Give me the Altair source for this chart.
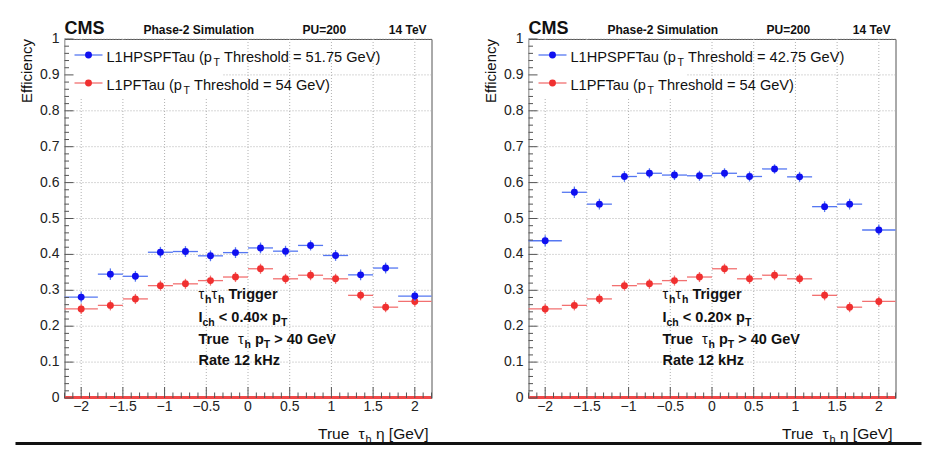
import altair as alt
import pandas as pd

FONT = "Liberation Sans"
TXT = "#111111"
FRAME = "#555555"

# ---------------- data ----------------
eta_lo = [-2.2, -1.8, -1.5, -1.2, -0.9, -0.6, -0.3, 0.0, 0.3, 0.6, 0.9, 1.2, 1.5, 1.8]
eta_hi = [-1.8, -1.5, -1.2, -0.9, -0.6, -0.3, 0.0, 0.3, 0.6, 0.9, 1.2, 1.5, 1.8, 2.2]
eta_c = [-2.0, -1.65, -1.35, -1.05, -0.75, -0.45, -0.15, 0.15, 0.45, 0.75, 1.05, 1.35, 1.65, 2.0]

eff_hps_iso040 = [0.281, 0.345, 0.339, 0.406, 0.408, 0.396, 0.405, 0.418, 0.409, 0.425, 0.397, 0.343, 0.362, 0.284]
err_hps_iso040 = [0.015, 0.016, 0.015, 0.015, 0.015, 0.015, 0.015, 0.015, 0.015, 0.014, 0.015, 0.015, 0.015, 0.014]
eff_hps_iso020 = [0.438, 0.573, 0.540, 0.617, 0.626, 0.621, 0.619, 0.626, 0.617, 0.638, 0.616, 0.533, 0.540, 0.468]
err_hps_iso020 = [0.015, 0.016, 0.015, 0.015, 0.014, 0.014, 0.014, 0.014, 0.014, 0.013, 0.014, 0.015, 0.015, 0.015]
eff_pf = [0.248, 0.258, 0.276, 0.313, 0.318, 0.327, 0.337, 0.360, 0.332, 0.342, 0.332, 0.286, 0.253, 0.269]
err_pf = [0.014, 0.014, 0.014, 0.014, 0.014, 0.014, 0.014, 0.014, 0.014, 0.014, 0.014, 0.014, 0.014, 0.014]

x_major = [-2, -1.5, -1, -0.5, 0, 0.5, 1, 1.5, 2]
x_labels = ["\u22122", "\u22121.5", "\u22121", "\u22120.5", "0", "0.5", "1", "1.5", "2"]
y_major = [0, 0.1, 0.2, 0.3, 0.4, 0.5, 0.6, 0.7, 0.8, 0.9, 1.0]
y_labels = ["0", "0.1", "0.2", "0.3", "0.4", "0.5", "0.6", "0.7", "0.8", "0.9", "1"]
x_minor = [round(-2.2 + 0.1 * i, 2) for i in range(45)]
x_minor = [v for v in x_minor if abs(v * 2 - round(v * 2)) > 1e-6]
y_minor = [round(0.02 * i, 2) for i in range(51)]
y_minor = [v for v in y_minor if abs(v * 10 - round(v * 10)) > 1e-6]

legend_blue_left = ["L1HPSPFTau (p", "T", " Threshold = 51.75 GeV)"]
legend_blue_right = ["L1HPSPFTau (p", "T", " Threshold = 42.75 GeV)"]
legend_red = ["L1PFTau (p", "T", " Threshold = 54 GeV)"]
iso_left = "0.40"
iso_right = "0.20"

# ---------------- text metrics (Arial / Liberation Sans) ----------------
REG = {c: w for c, w in zip(" ()+-.<=>[]\u00d7", [278, 333, 333, 584, 333, 278, 584, 584, 584, 278, 278, 584])}
BOLD = dict(REG)
for c in "0123456789":
    REG[c] = 556
    BOLD[c] = 556
for c, w in zip("ABCDEFGHIJKLMNOPQRSTUVWXYZ",
                [667, 667, 722, 722, 667, 611, 778, 722, 278, 500, 667, 556, 833, 722, 778, 667, 778, 722, 667, 611, 722, 667, 944, 667, 667, 611]):
    REG[c] = w
for c, w in zip("abcdefghijklmnopqrstuvwxyz",
                [556, 556, 500, 556, 556, 278, 556, 556, 222, 222, 500, 222, 833, 556, 556, 556, 556, 333, 500, 278, 556, 500, 722, 500, 500, 500]):
    REG[c] = w
for c, w in zip("ABCDEFGHIJKLMNOPQRSTUVWXYZ",
                [722, 722, 722, 722, 667, 611, 778, 722, 278, 556, 722, 611, 833, 722, 778, 667, 778, 722, 667, 611, 722, 667, 944, 667, 667, 611]):
    BOLD[c] = w
for c, w in zip("abcdefghijklmnopqrstuvwxyz",
                [556, 611, 556, 611, 556, 333, 611, 611, 278, 278, 556, 278, 889, 611, 611, 611, 611, 389, 556, 333, 611, 556, 778, 556, 556, 500]):
    BOLD[c] = w
REG["\u03c4"] = 450
BOLD["\u03c4"] = 470
REG["\u03b7"] = 556


def tw(s, size, bold):
    t = BOLD if bold else REG
    return sum(t.get(c, 556) for c in s) * size / 1000.0


one = pd.DataFrame({"k": [0]})


def text_segments(segs, x0, y0, align="left"):
    widths = [tw(t, s, b) for t, s, b, dy in segs]
    x = x0 - sum(widths) if align == "right" else x0
    out = []
    for (t, s, b, dy), w in zip(segs, widths):
        stripped = t.lstrip(" ")
        lead = tw(t[: len(t) - len(stripped)], s, b)
        out.append(
            alt.Chart(one).mark_text(
                text=stripped, font=FONT, fontSize=s, fontWeight="bold" if b else "normal",
                align="left", baseline="alphabetic", color=TXT
            ).encode(x=alt.value(x + lead), y=alt.value(y0 + dy))
        )
        x += w
    return out


W, H = 367, 359
XS = alt.Scale(domain=[-2.2, 2.2], nice=False, zero=False)
YS = alt.Scale(domain=[0, 1], nice=False, zero=False)


def X(f):
    return alt.X(f, type="quantitative", scale=XS, axis=None)


def Y(f):
    return alt.Y(f, type="quantitative", scale=YS, axis=None)


BLUE_PT, BLUE_LN = "#1010f0", "#5577f2"
RED_PT, RED_LN = "#f03030", "#f27070"
GRID = "#b0b0b0"


def series_layers(eff, err, cpt, cln):
    d = pd.DataFrame({"lo": eta_lo, "hi": eta_hi, "c": eta_c, "v": eff, "e": err})
    base = alt.Chart(d)
    hb = base.mark_rule(color=cln, strokeWidth=1.3).encode(x=X("lo"), x2="hi", y=Y("v"))
    vb = base.transform_calculate(ylo="datum.v - datum.e", yhi="datum.v + datum.e").mark_rule(
        color=cln, strokeWidth=1.3).encode(x=X("c"), y=Y("ylo"), y2="yhi")
    pt = base.mark_point(filled=True, shape="circle", size=48, color=cpt, opacity=1).encode(x=X("c"), y=Y("v"))
    return [hb, vb, pt]


def panel(eff_blue, err_blue, leg_blue, iso, separator):
    L = []
    dx = pd.DataFrame({"t": x_major, "lab": x_labels})
    dy = pd.DataFrame({"t": y_major, "lab": y_labels})
    # grid
    L.append(alt.Chart(dx).mark_rule(color=GRID, strokeWidth=1, strokeDash=[1, 2]).encode(
        x=X("t"), y=alt.value(0), y2=alt.value(H)))
    L.append(alt.Chart(dy).mark_rule(color=GRID, strokeWidth=1, strokeDash=[1, 2]).encode(
        y=Y("t"), x=alt.value(0), x2=alt.value(W)))
    # white legend box (covers grid)
    L.append(alt.Chart(one).mark_rect(color="white").encode(
        x=alt.value(1), x2=alt.value(158), y=alt.value(1), y2=alt.value(59)))
    L += series_layers(eff_pf, err_pf, RED_PT, RED_LN)
    L += series_layers(eff_blue, err_blue, BLUE_PT, BLUE_LN)
    # red line at zero
    L.append(alt.Chart(one).mark_rule(color="#f04848", strokeWidth=3).encode(
        x=alt.value(0), x2=alt.value(W), y=alt.value(H - 0.5)))
    # inward ticks
    L.append(alt.Chart(dx).mark_rule(color=FRAME, strokeWidth=1).encode(
        x=X("t"), y=alt.value(H), y2=alt.value(H - 11)))
    L.append(alt.Chart(pd.DataFrame({"t": x_minor})).mark_rule(color=FRAME, strokeWidth=1).encode(
        x=X("t"), y=alt.value(H), y2=alt.value(H - 5.5)))
    L.append(alt.Chart(dy).mark_rule(color=FRAME, strokeWidth=1).encode(
        y=Y("t"), x=alt.value(0), x2=alt.value(9)))
    L.append(alt.Chart(pd.DataFrame({"t": y_minor})).mark_rule(color=FRAME, strokeWidth=1).encode(
        y=Y("t"), x=alt.value(0), x2=alt.value(4.5)))
    # tick labels
    L.append(alt.Chart(dx).mark_text(font=FONT, fontSize=14, color="#222222", align="center",
                                     baseline="middle").encode(x=X("t"), y=alt.value(H + 8.5), text="lab:N"))
    L.append(alt.Chart(dy).mark_text(font=FONT, fontSize=14, color="#222222", align="right",
                                     baseline="middle").encode(y=Y("t"), x=alt.value(-5), text="lab:N"))
    # legend markers
    for yy, cpt, cln in [(16, BLUE_PT, BLUE_LN), (44, RED_PT, RED_LN)]:
        L.append(alt.Chart(one).mark_rule(color=cln, strokeWidth=1.3).encode(
            x=alt.value(10), x2=alt.value(38), y=alt.value(yy)))
        L.append(alt.Chart(one).mark_point(filled=True, shape="circle", size=48, color=cpt, opacity=1).encode(
            x=alt.value(24), y=alt.value(yy)))
    # legend texts
    LS, SS = 14.6, 10.5
    L += text_segments([(leg_blue[0], LS, False, 0), (leg_blue[1], SS, False, 4), (leg_blue[2], LS, False, 0)], 42, 23)
    L += text_segments([(legend_red[0], LS, False, 0), (legend_red[1], SS, False, 4), (legend_red[2], LS, False, 0)], 42, 50.5)
    # header
    L += text_segments([("CMS", 18, True, 0)], 0, -5)
    L += text_segments([("Phase-2 Simulation", 12, True, 0)], 79, -5)
    L += text_segments([("PU=200", 12, True, 0)], 238, -5)
    L += text_segments([("14 TeV", 12, True, 0)], 363, -5, align="right")
    # annotation
    B, S = 14.5, 10.5
    ax = 134
    L += text_segments([("\u03c4", B, False, 0), ("h", S, True, 4), ("\u03c4", B, False, 0), ("h", S, True, 4),
                        (" Trigger", B, True, 0)], ax, 260)
    L += text_segments([("I", B, True, 0), ("ch", S, True, 4), (" < " + iso + "\u00d7 p", B, True, 0),
                        ("T", S, True, 4)], ax, 283)
    L += text_segments([("True  ", B, True, 0), ("\u03c4", B, False, 0), ("h", S, True, 4), (" p", B, True, 0),
                        ("T", S, True, 4), (" > 40 GeV", B, True, 0)], ax, 305)
    L += text_segments([("Rate 12 kHz", B, True, 0)], ax, 326)
    # axis titles
    L += text_segments([("True  ", 15.5, False, 0), ("\u03c4", 15.5, False, 0), ("h", 11, False, 4),
                        (" \u03b7 [GeV]", 15.5, False, 0)], 364, 400, align="right")
    L.append(alt.Chart(one).mark_text(text="Efficiency", font=FONT, fontSize=15, angle=270, align="right",
                                      baseline="alphabetic", color=TXT).encode(x=alt.value(-33), y=alt.value(0)))
    # separator line (drawn once, in the right panel, spanning the page) and spacers
    if separator:
        L.append(alt.Chart(one).mark_rule(color="#111111", strokeWidth=3).encode(
            x=alt.value(-513), x2=alt.value(393), y=alt.value(404.5)))
    else:
        L.append(alt.Chart(one).mark_rule(color="white", strokeWidth=1).encode(
            x=alt.value(-49), x2=alt.value(-48), y=alt.value(404.5)))
    L.append(alt.Chart(one).mark_rule(color="white", strokeWidth=1).encode(
        x=alt.value(0), x2=alt.value(1), y=alt.value(-29.5)))
    return alt.layer(*L).properties(width=W, height=H)


left = panel(eff_hps_iso040, err_hps_iso040, legend_blue_left, iso_left, False)
right = panel(eff_hps_iso020, err_hps_iso020, legend_blue_right, iso_right, True)

chart = alt.hconcat(left, right, spacing=97, bounds="flush").properties(
    padding={"left": 5.5, "top": 0, "right": 0, "bottom": 0}
).configure_view(stroke=FRAME, strokeWidth=1)

chart.save("out.html", embed_options={"renderer": "svg", "actions": False})
